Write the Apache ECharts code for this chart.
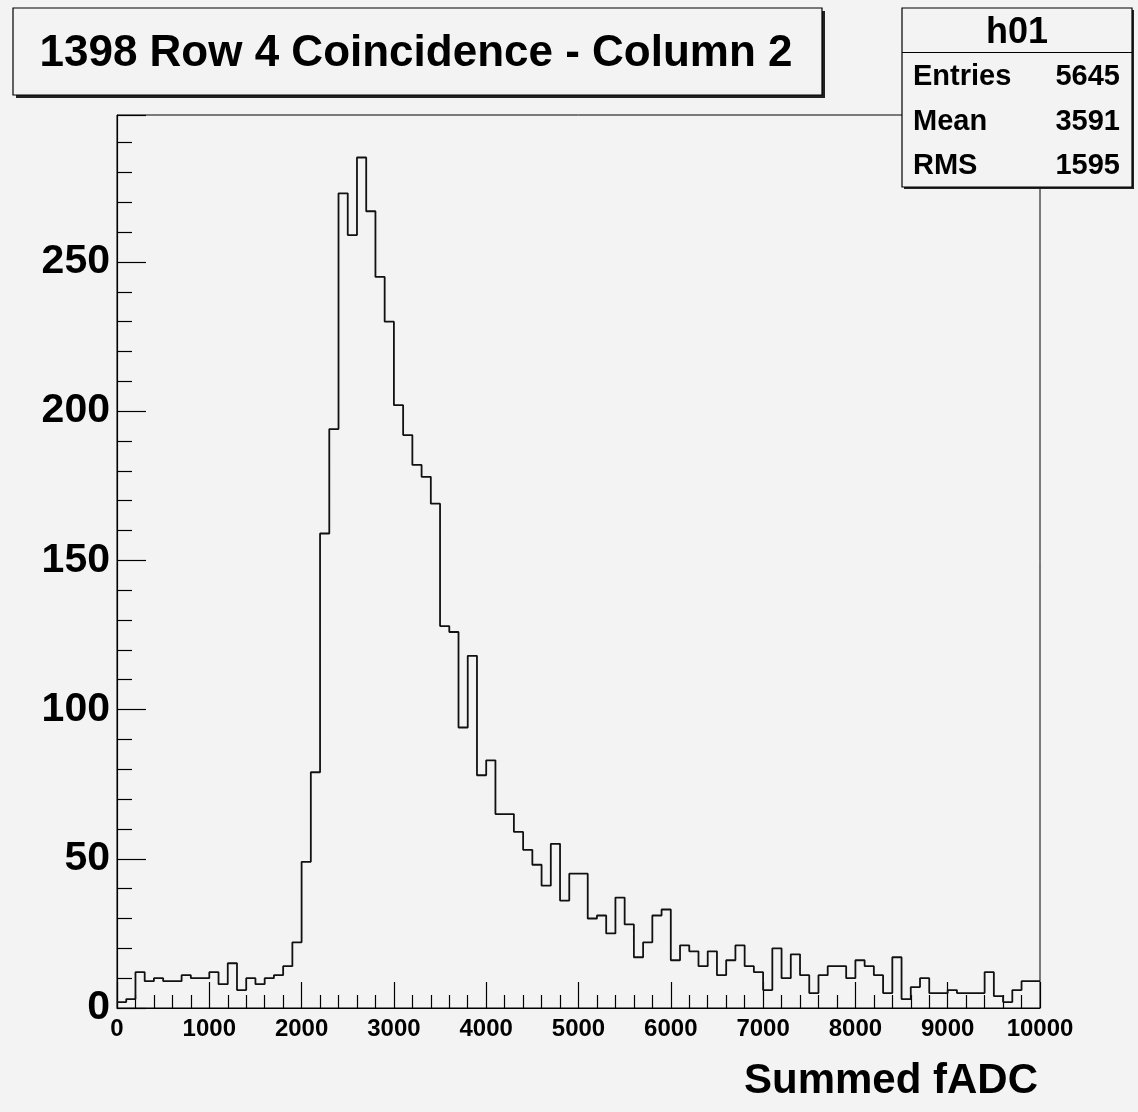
<!DOCTYPE html>
<html lang="en">
<head>
<meta charset="UTF-8">
<title>h01</title>
<script src="https://cdn.jsdelivr.net/npm/echarts@6/dist/echarts.min.js"></script>
<style>
html, body { margin: 0; padding: 0; background: #f3f3f3; }
#main { width: 1138px; height: 1112px; }
</style>
</head>
<body>
<div id="main"></div>
<script>
// h01: 100 bins, 0 .. 10000
var xMin = 0, xMax = 10000, binWidth = 100;
var yMax = 299.25;
var counts = [
    2, 3, 12, 9, 10, 9, 9, 11, 10, 10,
    12, 8, 15, 6, 10, 8, 10, 11, 14, 22,
    49, 79, 159, 194, 273, 259, 285, 267, 245, 230,
    202, 192, 182, 178, 169, 128, 126, 94, 118, 78,
    83, 65, 65, 59, 53, 48, 41, 55, 36, 45,
    45, 30, 31, 25, 37, 28, 17, 22, 31, 33,
    16, 21, 19, 14, 19, 11, 16, 21, 14, 12,
    6, 20, 10, 18, 11, 5, 11, 14, 14, 10,
    16, 14, 11, 5, 17, 3, 7, 10, 5, 5,
    6, 5, 5, 5, 12, 4, 2, 6, 9, 9
];
var statLabels = ['Entries', 'Mean', 'RMS'];
var statValues = ['5645', '3591', '1595'];
var histName = 'h01';
var titleText = '1398 Row 4 Coincidence - Column 2';
var xTitle = 'Summed fADC';

var font = '"Liberation Sans", Arial, sans-serif';
var bg = '#f3f3f3';

// left bin edges -> step line
var stepData = counts.map(function (c, i) { return [xMin + i * binWidth, c]; });
stepData.push([xMax, counts[counts.length - 1]]);

var statRows = [];
statLabels.forEach(function (lab, i) {
    var y = 77 + i * 44.5;
    statRows.push({ type: 'text', x: 913, y: y, z: 102,
        style: { text: lab, font: 'bold 29px ' + font, fill: '#000', align: 'left', verticalAlign: 'middle' } });
    statRows.push({ type: 'text', x: 1120, y: y, z: 102,
        style: { text: statValues[i], font: 'bold 29px ' + font, fill: '#000', align: 'right', verticalAlign: 'middle' } });
});

var myChart = echarts.init(document.getElementById('main'));
myChart.setOption({
    backgroundColor: bg,
    animation: false,
    grid: {
        left: 117, right: 98, top: 115, bottom: 104,
        show: true, borderColor: '#000', borderWidth: 1, backgroundColor: 'transparent'
    },
    xAxis: {
        type: 'value', min: xMin, max: xMax, interval: 1000,
        axisLine: { show: true, lineStyle: { color: '#000', width: 1.2 } },
        axisTick: { show: true, inside: true, length: 26, lineStyle: { color: '#000', width: 1.2 } },
        minorTick: { show: true, splitNumber: 5, length: 13, lineStyle: { color: '#000', width: 1.2 } },
        splitLine: { show: false },
        axisLabel: { color: '#000', fontFamily: font, fontWeight: 'bold', fontSize: 24, margin: 9,
            formatter: function (v) { return String(v); } }
    },
    yAxis: {
        type: 'value', min: 0, max: yMax, interval: 50,
        axisLine: { show: true, lineStyle: { color: '#000', width: 1.2 } },
        axisTick: { show: true, inside: true, length: 29, lineStyle: { color: '#000', width: 1.2 } },
        minorTick: { show: true, splitNumber: 5, length: 15, lineStyle: { color: '#000', width: 1.2 } },
        splitLine: { show: false },
        axisLabel: { color: '#000', fontFamily: font, fontWeight: 'bold', fontSize: 41, margin: 7, showMaxLabel: false,
            formatter: function (v) { return String(v); } }
    },
    series: [{
        type: 'line',
        step: 'end',
        data: stepData,
        showSymbol: false,
        lineStyle: { color: '#111', width: 1.8 },
        z: 3
    }],
    graphic: [
        // title box
        { type: 'rect', z: 100, shape: { x: 16, y: 11, width: 809, height: 87 }, style: { fill: '#222' } },
        { type: 'rect', z: 101, shape: { x: 13, y: 8, width: 809, height: 87 }, style: { fill: bg, stroke: '#000', lineWidth: 1.2 } },
        { type: 'text', z: 102, x: 416, y: 54,
          style: { text: titleText, font: 'bold 44px ' + font, fill: '#000', align: 'center', verticalAlign: 'middle' } },
        // stats box
        { type: 'rect', z: 100, shape: { x: 904, y: 10, width: 230, height: 179 }, style: { fill: '#222' } },
        { type: 'rect', z: 101, shape: { x: 902, y: 8, width: 230, height: 179 }, style: { fill: bg, stroke: '#000', lineWidth: 1.2 } },
        { type: 'line', z: 102, shape: { x1: 902, y1: 52.5, x2: 1132, y2: 52.5 }, style: { stroke: '#000', lineWidth: 1.2 } },
        { type: 'text', z: 102, x: 1017, y: 33,
          style: { text: histName, font: 'bold 36px ' + font, fill: '#000', align: 'center', verticalAlign: 'middle' } },
        // x axis title
        { type: 'text', z: 102, x: 1038, y: 1081,
          style: { text: xTitle, font: 'bold 42px ' + font, fill: '#000', align: 'right', verticalAlign: 'middle' } }
    ].concat(statRows)
});
</script>
</body>
</html>
